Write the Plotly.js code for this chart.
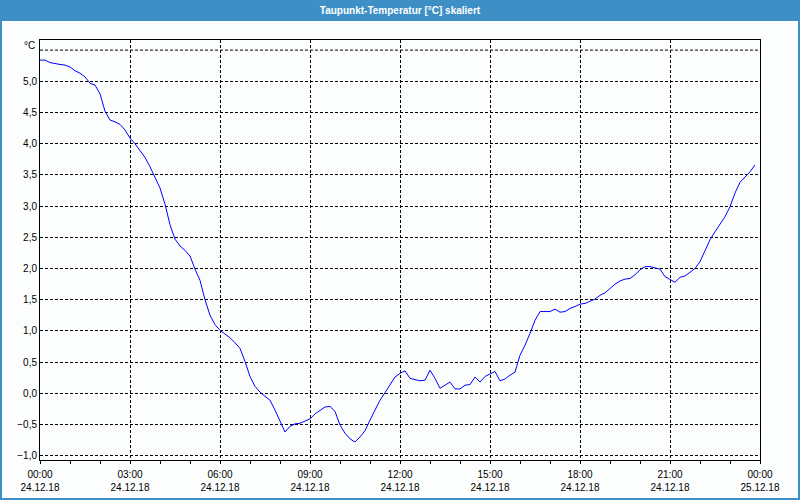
<!DOCTYPE html>
<html>
<head>
<meta charset="utf-8">
<script src="https://cdn.plot.ly/plotly-3.0.1.min.js"></script>
<style>
html,body{margin:0;padding:0;background:#fcfefd;}
#chart{width:800px;height:500px;}
</style>
</head>
<body>
<div id="chart"></div>
<script>
const chartTitle = "Taupunkt-Temperatur [°C] skaliert";
const unitLabel = "°C";
const day = "2018-12-24";
const rangeStart = "2018-12-24 00:00";
const rangeEnd = "2018-12-25 00:00";
const yTickVals = [-1.0, -0.5, 0.0, 0.5, 1.0, 1.5, 2.0, 2.5, 3.0, 3.5, 4.0, 4.5, 5.0];
const yGridVals = [5.5];

const times = [
"00:00","00:10","00:20","00:30","00:40","00:50",
"01:00","01:10","01:20","01:30","01:40","01:50",
"02:00","02:10","02:20","02:30","02:40","02:50",
"03:00","03:10","03:20","03:30","03:40","03:50",
"04:00","04:10","04:20","04:30","04:40","04:50",
"05:00","05:10","05:20","05:30","05:40","05:50",
"06:00","06:10","06:20","06:30","06:40","06:50",
"07:00","07:10","07:20","07:30","07:40","07:50",
"08:00","08:10","08:20","08:30","08:40","08:50",
"09:00","09:10","09:20","09:30","09:40","09:50",
"10:00","10:10","10:20","10:30","10:40","10:50",
"11:00","11:10","11:20","11:30","11:40","11:50",
"12:00","12:10","12:20","12:30","12:40","12:50",
"13:00","13:10","13:20","13:30","13:40","13:50",
"14:00","14:10","14:20","14:30","14:40","14:50",
"15:00","15:10","15:20","15:30","15:40","15:50",
"16:00","16:10","16:20","16:30","16:40","16:50",
"17:00","17:10","17:20","17:30","17:40","17:50",
"18:00","18:10","18:20","18:30","18:40","18:50",
"19:00","19:10","19:20","19:30","19:40","19:50",
"20:00","20:10","20:20","20:30","20:40","20:50",
"21:00","21:10","21:20","21:30","21:40","21:50",
"22:00","22:10","22:20","22:30","22:40","22:50",
"23:00","23:10","23:20","23:30","23:40","23:50"
];

const dewPoint = [
5.34, 5.34, 5.30, 5.28, 5.27, 5.26,
5.23, 5.17, 5.13, 5.07, 4.97, 4.94,
4.80, 4.52, 4.38, 4.35, 4.31, 4.22,
4.09, 4.00, 3.89, 3.78, 3.63, 3.47,
3.29, 3.03, 2.70, 2.47, 2.36, 2.29,
2.20, 1.99, 1.81, 1.50, 1.25, 1.10,
1.01, 0.95, 0.89, 0.81, 0.72, 0.51,
0.27, 0.11, 0.02, -0.05, -0.11, -0.27,
-0.46, -0.62, -0.53, -0.49, -0.48, -0.44,
-0.41, -0.33, -0.27, -0.22, -0.21, -0.29,
-0.51, -0.64, -0.73, -0.78, -0.70, -0.60,
-0.43, -0.27, -0.11, 0.01, 0.13, 0.26,
0.32, 0.36, 0.24, 0.22, 0.20, 0.21,
0.37, 0.24, 0.08, 0.13, 0.18, 0.07,
0.07, 0.13, 0.14, 0.26, 0.18, 0.27,
0.31, 0.35, 0.20, 0.23, 0.29, 0.34,
0.61, 0.77, 0.96, 1.17, 1.31, 1.31,
1.31, 1.35, 1.30, 1.31, 1.36, 1.39,
1.43, 1.44, 1.47, 1.51, 1.57, 1.61,
1.68, 1.75, 1.80, 1.83, 1.84, 1.90,
1.98, 2.03, 2.03, 2.01, 1.99, 1.87,
1.83, 1.78, 1.86, 1.88, 1.94, 2.00,
2.11, 2.30, 2.46, 2.59, 2.71, 2.83,
2.99, 3.21, 3.38, 3.47, 3.55, 3.66
];

const xValues = times.map(t => day + " " + t);

const W = 800, H = 500, ML = 40, MR = 40, MT = 40, MB = 40;
const PW = W - ML - MR, PH = H - MT - MB;
const px = p => (p - ML) / PW;
const py = p => (H - MB - p) / PH;
const barBlue = "#3d8fc6";
const labelFont = {family: "Liberation Sans, Arial, sans-serif", size: 10, color: "#000"};

const trace = {
  x: xValues,
  y: dewPoint,
  type: "scatter",
  mode: "lines",
  line: {color: "#0000ff", width: 1},
  hoverinfo: "x+y"
};

// extra dashed gridline(s) without labels (top line at 5,5)
const gridShapes = yGridVals.map(v => ({
  type: "line", xref: "paper", yref: "y", x0: 0, x1: 1, y0: v, y1: v, layer: "below",
  line: {color: "#000", width: 1, dash: "3px,2px"}
}));

const layout = {
  width: W, height: H,
  margin: {l: ML, r: MR, t: MT, b: MB, pad: 0},
  paper_bgcolor: "#fcfefd",
  plot_bgcolor: "#fcfefd",
  separators: ",.",
  showlegend: false,
  font: labelFont,
  title: {
    text: chartTitle,
    font: {family: "Liberation Sans, Arial, sans-serif", size: 10, color: "#ffffff", weight: "bold"},
    x: 0.5, xref: "container", xanchor: "center",
    y: 1 - 10.5 / H, yref: "container", yanchor: "middle"
  },
  xaxis: {
    type: "date",
    range: [rangeStart, rangeEnd],
    tick0: rangeStart,
    dtick: 3 * 3600000,
    tickformat: "%H:%M<br>%d.%m.%y",
    ticks: "outside", ticklen: 3, tickcolor: "#000", tickwidth: 1,
    ticklabelstandoff: 2,
    minor: {dtick: 3600000, ticks: "outside", ticklen: 3, tickcolor: "#000", showgrid: false},
    showgrid: true, gridcolor: "#000", gridwidth: 1, griddash: "3px,2px",
    showline: true, linecolor: "#000", linewidth: 1, mirror: true,
    zeroline: false,
    tickfont: labelFont,
    fixedrange: true
  },
  yaxis: {
    range: [-1.069, 5.662],
    tickmode: "array",
    tickvals: yTickVals,
    tickformat: ".1f",
    ticks: "",
    showgrid: true, gridcolor: "#000", gridwidth: 1, griddash: "3px,2px",
    showline: true, linecolor: "#000", linewidth: 1, mirror: true,
    zeroline: false,
    tickfont: labelFont,
    fixedrange: true
  },
  shapes: gridShapes.concat([
    {type: "rect", xref: "paper", yref: "paper", layer: "below",
     x0: px(0), x1: px(W), y0: py(21), y1: py(0),
     fillcolor: barBlue, line: {width: 0}},
    {type: "line", xref: "paper", yref: "paper", x0: px(1), x1: px(1), y0: py(21), y1: py(H),
     line: {color: barBlue, width: 2}},
    {type: "line", xref: "paper", yref: "paper", x0: px(W - 1), x1: px(W - 1), y0: py(21), y1: py(H),
     line: {color: barBlue, width: 2}},
    {type: "line", xref: "paper", yref: "paper", x0: px(0), x1: px(W), y0: py(H - 1), y1: py(H - 1),
     line: {color: barBlue, width: 2}}
  ]),
  annotations: [
    {text: unitLabel, xref: "paper", yref: "paper", x: 0, y: 1,
     xanchor: "right", yanchor: "middle", xshift: -3, yshift: -5,
     showarrow: false, font: labelFont}
  ]
};

Plotly.newPlot("chart", [trace], layout, {displayModeBar: false, staticPlot: true});
</script>
</body>
</html>
